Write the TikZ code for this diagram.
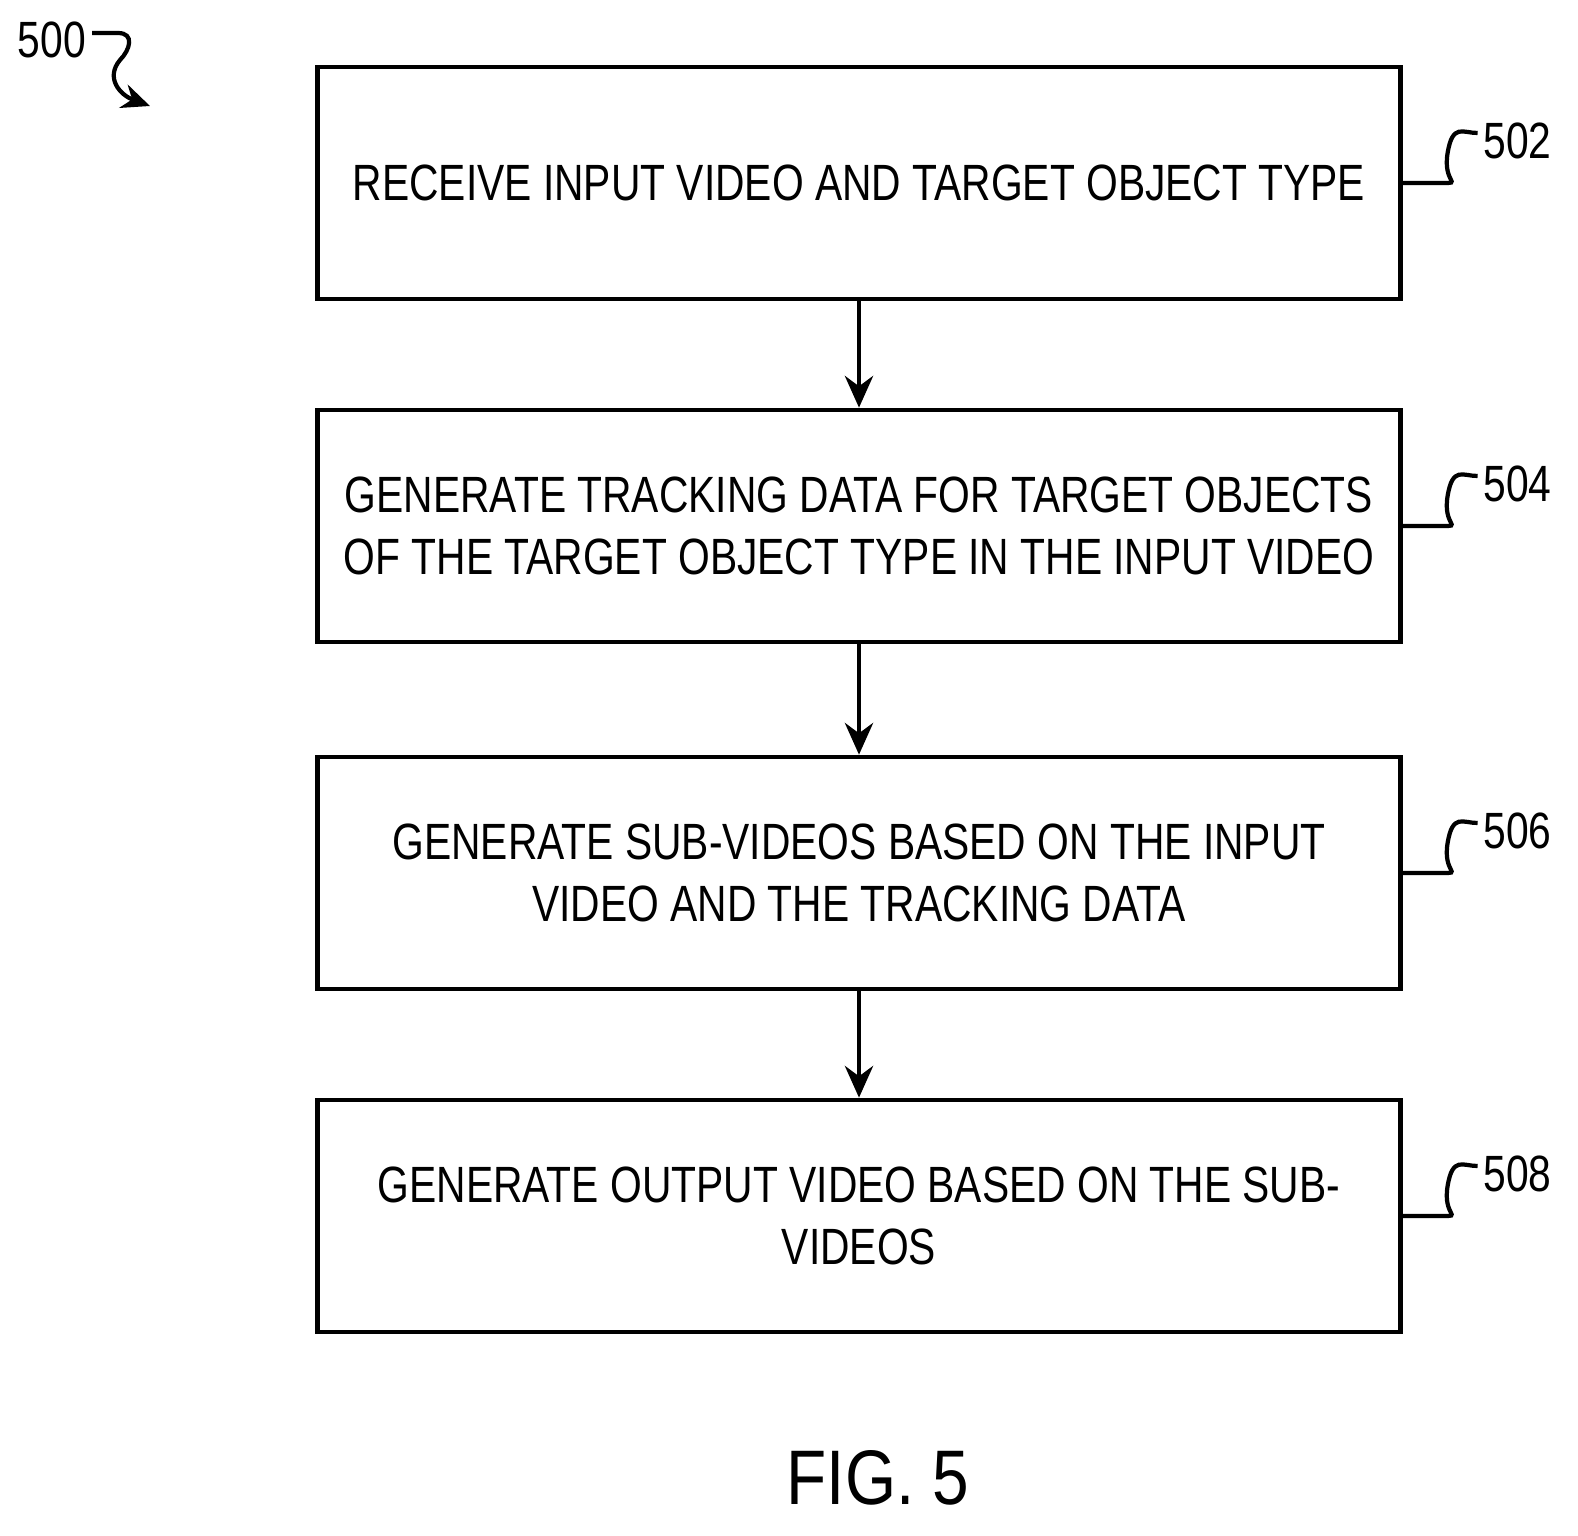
\documentclass[tikz,border=0pt]{standalone}
\usepackage{fontspec}
\setmainfont{Liberation Sans}[FakeStretch=0.8]
\newfontfamily\figfont{Liberation Sans}[FakeStretch=0.85]
\usetikzlibrary{arrows.meta}
\begin{document}
\begin{tikzpicture}[x=0.01cm,y=-0.01cm,
  box/.style={draw,line width=1.3pt,minimum width=10.82cm,minimum height=2.32cm,align=center,font=\fontsize{14.5pt}{17.5pt}\selectfont},
  arr/.style={-{Stealth[length=9pt,width=8pt]},line width=1.3pt},
  lead/.style={line width=1.2pt},
  num/.style={font=\fontsize{14.5pt}{17pt}\selectfont}]
\useasboundingbox (0,0) rectangle (1578,1536);
\node[box] (b1) at (859,183) {RECEIVE INPUT VIDEO AND TARGET OBJECT TYPE};
\node[box] (b2) at (859,526) {GENERATE TRACKING DATA FOR TARGET OBJECTS\\OF THE TARGET OBJECT TYPE IN THE INPUT VIDEO};
\node[box] (b3) at (859,873) {GENERATE SUB-VIDEOS BASED ON THE INPUT\\VIDEO AND THE TRACKING DATA};
\node[box] (b4) at (859,1216) {GENERATE OUTPUT VIDEO BASED ON THE SUB-\\VIDEOS};
\draw[arr] (b1) -- (b2);
\draw[arr] (b2) -- (b3);
\draw[arr] (b3) -- (b4);
\foreach \b/\n in {b1/502,b2/504,b3/506,b4/508}{
  \node[num,anchor=west,inner sep=0pt] (l\n) at ([xshift=0.8cm,yshift=0.42cm]\b.east) {\n};
  \draw[lead] (\b.east) -- ++(40,0) .. controls ++(20,0) and ++(-5,30) .. ++(5,-30) .. controls ++(5,-30) and ++(-15,0) .. ++(30,-20);
}
\node[num] (n500) at (52,40) {500};
\coordinate (a500) at (150,106);
\draw[lead,-{Stealth[length=8pt,width=7pt]}] (92,33) -- (118,33) .. controls (135,33) and (130,50) .. (120,60) .. controls (105,78) and (120,95) .. (a500);
\node[font=\figfont\fontsize{22pt}{26pt}\selectfont] (fig) at (878,1478) {FIG. 5};
\end{tikzpicture}
\end{document}
